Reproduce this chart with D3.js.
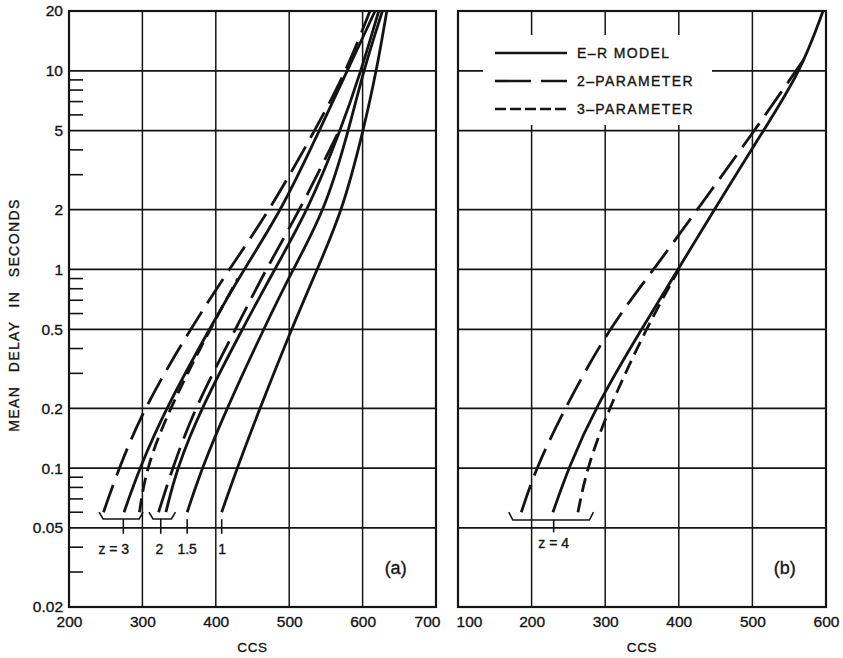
<!DOCTYPE html>
<html><head><meta charset="utf-8">
<script src="https://cdn.jsdelivr.net/npm/d3@7/dist/d3.min.js"></script>
<style>
body{margin:0;background:#fff}
svg{display:block}
text{font-family:"Liberation Sans",Arial,sans-serif;fill:#141414;stroke:#141414;stroke-width:0.35px}
</style>
</head><body>
<svg id="chart" width="843" height="658"></svg>
<script>
// ---------- data ----------
const yTicks = [20, 10, 5, 2, 1, 0.5, 0.2, 0.1, 0.05, 0.02];
const yMinorTicks = [9, 8, 7, 6, 4, 3, 0.9, 0.8, 0.7, 0.6, 0.4, 0.3, 0.09, 0.08, 0.07, 0.06, 0.04, 0.03];
const xTicksA = [200, 300, 400, 500, 600, 700];
const xTicksB = [100, 200, 300, 400, 500, 600];

// panel (a) curves: [mean delay (s), CCS]
const aTwoParamZ3 = [[0.06,247],[0.1,268],[0.2,302],[0.5,365],[1,418],[2,474],[5,535],[10,578],[20,610]];
const aErZ3       = [[0.06,275],[0.1,296],[0.2,332],[0.5,391],[1,438],[2,490],[5,541],[10,579],[20,617]];
const aThreeParamZ3 = [[0.06,296],[0.1,305],[0.2,337],[0.5,392],[0.9,430]];
const aTwoParamZ2 = [[0.06,322],[0.1,341],[0.2,371],[0.5,427],[1,468],[2,515],[5,568]];
const aErZ2       = [[0.06,332],[0.1,347],[0.2,380],[0.5,436],[1,480],[2,526],[5,570],[10,598],[20,622]];
const aErZ15      = [[0.06,361],[0.1,381],[0.2,415],[0.5,465],[1,505],[2,549],[5,581],[10,601],[20,627]];
const aErZ1       = [[0.06,408],[0.1,429],[0.2,460],[0.5,503],[1,538],[2,573],[5,601],[10,619],[20,633]];

// panel (b) curves, z = 4
const bErZ4         = [[0.06,229],[0.1,250],[0.2,286],[0.5,349],[1,399],[2,448],[5,515],[10,566],[20,596]];
const bTwoParamZ4   = [[0.06,186],[0.1,206],[0.2,245],[0.5,304],[1,366],[2,425],[5,503],[12,574]];
const bThreeParamZ4 = [[0.06,263],[0.1,275],[0.2,305],[0.5,355],[1,400]];

// z labels: bracket spans (CCS), stem position and label position
const zBracketsA = [{lo:241, hi:301, mid:274, at:261, label:"z = 3"}, {lo:309, hi:345, mid:325, at:323, label:"2"}];
const zStemsA = [{mid:361, at:361, label:"1.5"}, {mid:408, at:408.5, label:"1"}];
const zBracketsB = [{lo:169, hi:284, mid:230, at:230, label:"z = 4"}];

const legendItems = [
  {label:"E\u2013R MODEL", kind:"er"},
  {label:"2\u2013PARAMETER", kind:"p2"},
  {label:"3\u2013PARAMETER", kind:"p3"}
];

// ---------- drawing ----------
const svg = d3.select("#chart");
const ink = "#141414";
const y = d3.scaleLog().domain([0.02, 20]).range([607, 11]);
const xA = d3.scaleLinear().domain([200, 700]).range([69, 436]);
const xB = d3.scaleLinear().domain([100, 600]).range([458, 826]);

const dashOf = {er:null, p2:"29,10", p3:"14,7"};
const legendDash = {er:null, p2:"36,10", p3:"11,4"};

function panel(x, xTicks, curves, opts) {
  const g = svg.append("g");
  const [x0, x1] = x.range();
  const [yb, yt] = y.range();
  g.selectAll(".gx").data(xTicks).join("line")
    .attr("x1", d => x(d)).attr("x2", d => x(d)).attr("y1", yt).attr("y2", yb)
    .attr("stroke", ink).attr("stroke-width", 1.5);
  g.selectAll(".gy").data(yTicks).join("line")
    .attr("x1", x0).attr("x2", x1).attr("y1", d => y(d)).attr("y2", d => y(d))
    .attr("stroke", ink).attr("stroke-width", 1.8);
  g.append("rect").attr("x", x0).attr("y", yt).attr("width", x1 - x0).attr("height", yb - yt)
    .attr("fill", "none").attr("stroke", ink).attr("stroke-width", 2.2);
  const ax = d3.axisBottom(x).tickValues(xTicks).tickSize(0).tickPadding(9).tickFormat(d3.format("d"));
  const axg = g.append("g").attr("transform", `translate(0,${yb})`).call(ax);
  axg.select(".domain").remove();
  axg.selectAll("text").attr("font-size", 15.5).attr("fill", ink)
    .attr("font-family", '"Liberation Sans",Arial,sans-serif')
    .attr("dx", d => (opts.tickShift && opts.tickShift[d]) || 0);
  g.append("text").attr("x", (x0 + x1) / 2).attr("y", 652).attr("text-anchor", "middle")
    .attr("font-size", 13.5).attr("letter-spacing", 0.6).text("CCS");
  if (opts.legend) {
    g.append("rect").attr("x", 483).attr("y", 35).attr("width", 229).attr("height", 90).attr("fill", "#fff");
    const lg = g.append("g");
    legendItems.forEach((it, i) => {
      const ly = 53 + i * 28;
      lg.append("line").attr("x1", 495).attr("x2", 567).attr("y1", ly).attr("y2", ly)
        .attr("stroke", ink).attr("stroke-width", 2.6)
        .attr("stroke-dasharray", legendDash[it.kind]);
      lg.append("text").attr("x", 577).attr("y", ly + 5).attr("font-size", 14)
        .attr("letter-spacing", 1.4).text(it.label);
    });
  }
  const line = d3.line().x(d => x(d[1])).y(d => y(d[0])).curve(d3.curveBasis);
  curves.forEach(c => {
    g.append("path").attr("d", line(c.data)).attr("fill", "none").attr("stroke", ink)
      .attr("stroke-width", 2.8).attr("stroke-linecap", "butt")
      .attr("stroke-dasharray", dashOf[c.kind]);
  });
  const baseD = opts.bracketBase, tipD = 0.06;
  (opts.brackets || []).forEach(b => {
    const p = d3.path();
    p.moveTo(x(b.lo), y(tipD));
    p.lineTo(x(b.lo) + 4, y(baseD));
    p.lineTo(x(b.hi) - 4, y(baseD));
    p.lineTo(x(b.hi), y(tipD));
    g.append("path").attr("d", p.toString()).attr("fill", "none").attr("stroke", ink).attr("stroke-width", 1.6);
    g.append("line").attr("x1", x(b.mid)).attr("x2", x(b.mid)).attr("y1", y(baseD)).attr("y2", y(opts.stemEnd))
      .attr("stroke", ink).attr("stroke-width", 1.6);
    g.append("text").attr("x", x(b.at)).attr("y", y(opts.labelAt)).attr("text-anchor", "middle")
      .attr("font-size", 14).attr("dominant-baseline", "middle").text(b.label);
  });
  (opts.stems || []).forEach(s => {
    g.append("line").attr("x1", x(s.mid)).attr("x2", x(s.mid)).attr("y1", y(0.0553)).attr("y2", y(opts.stemEnd))
      .attr("stroke", ink).attr("stroke-width", 1.6);
    g.append("text").attr("x", x(s.at)).attr("y", y(opts.labelAt)).attr("text-anchor", "middle")
      .attr("font-size", 14).attr("dominant-baseline", "middle").text(s.label);
  });
  g.append("text").attr("x", opts.tagX).attr("y", 569).attr("text-anchor", "middle")
    .attr("dominant-baseline", "middle").attr("font-size", 18).text(opts.tag);
  return g;
}

panel(xA, xTicksA, [
  {data:aTwoParamZ3, kind:"p2"}, {data:aErZ3, kind:"er"}, {data:aThreeParamZ3, kind:"p3"},
  {data:aTwoParamZ2, kind:"p2"}, {data:aErZ2, kind:"er"}, {data:aErZ15, kind:"er"}, {data:aErZ1, kind:"er"}
], {brackets:zBracketsA, stems:zStemsA, bracketBase:0.0555, stemEnd:0.0467, labelAt:0.0388,
    tag:"(a)", tagX:xA(645), tickShift:{700:-9}});

panel(xB, xTicksB, [
  {data:bTwoParamZ4, kind:"p2"}, {data:bErZ4, kind:"er"}, {data:bThreeParamZ4, kind:"p3"}
], {brackets:zBracketsB, bracketBase:0.0548, stemEnd:0.0475, labelAt:0.0412,
    tag:"(b)", tagX:xB(544), legend:true, tickShift:{100:11}});

const yAx = d3.axisLeft(y).tickValues(yTicks).tickSize(0).tickPadding(6).tickFormat(d => String(d));
const yg = svg.append("g").attr("transform", `translate(${xA.range()[0]},0)`).call(yAx);
yg.select(".domain").remove();
yg.selectAll("text").attr("font-size", 15.5).attr("fill", ink).attr("font-family", '"Liberation Sans",Arial,sans-serif');
svg.append("g").selectAll("line").data(yMinorTicks).join("line")
  .attr("x1", xA.range()[0]).attr("x2", xA.range()[0] + 14)
  .attr("y1", d => y(d)).attr("y2", d => y(d)).attr("stroke", ink).attr("stroke-width", 1.6);
svg.append("text").attr("transform", `translate(19,${(y.range()[0] + y.range()[1]) / 2 + 6}) rotate(-90)`)
  .attr("text-anchor", "middle").attr("font-size", 14).attr("letter-spacing", 1.4).attr("word-spacing", 8)
  .text("MEAN DELAY IN SECONDS");
</script>
</body></html>
